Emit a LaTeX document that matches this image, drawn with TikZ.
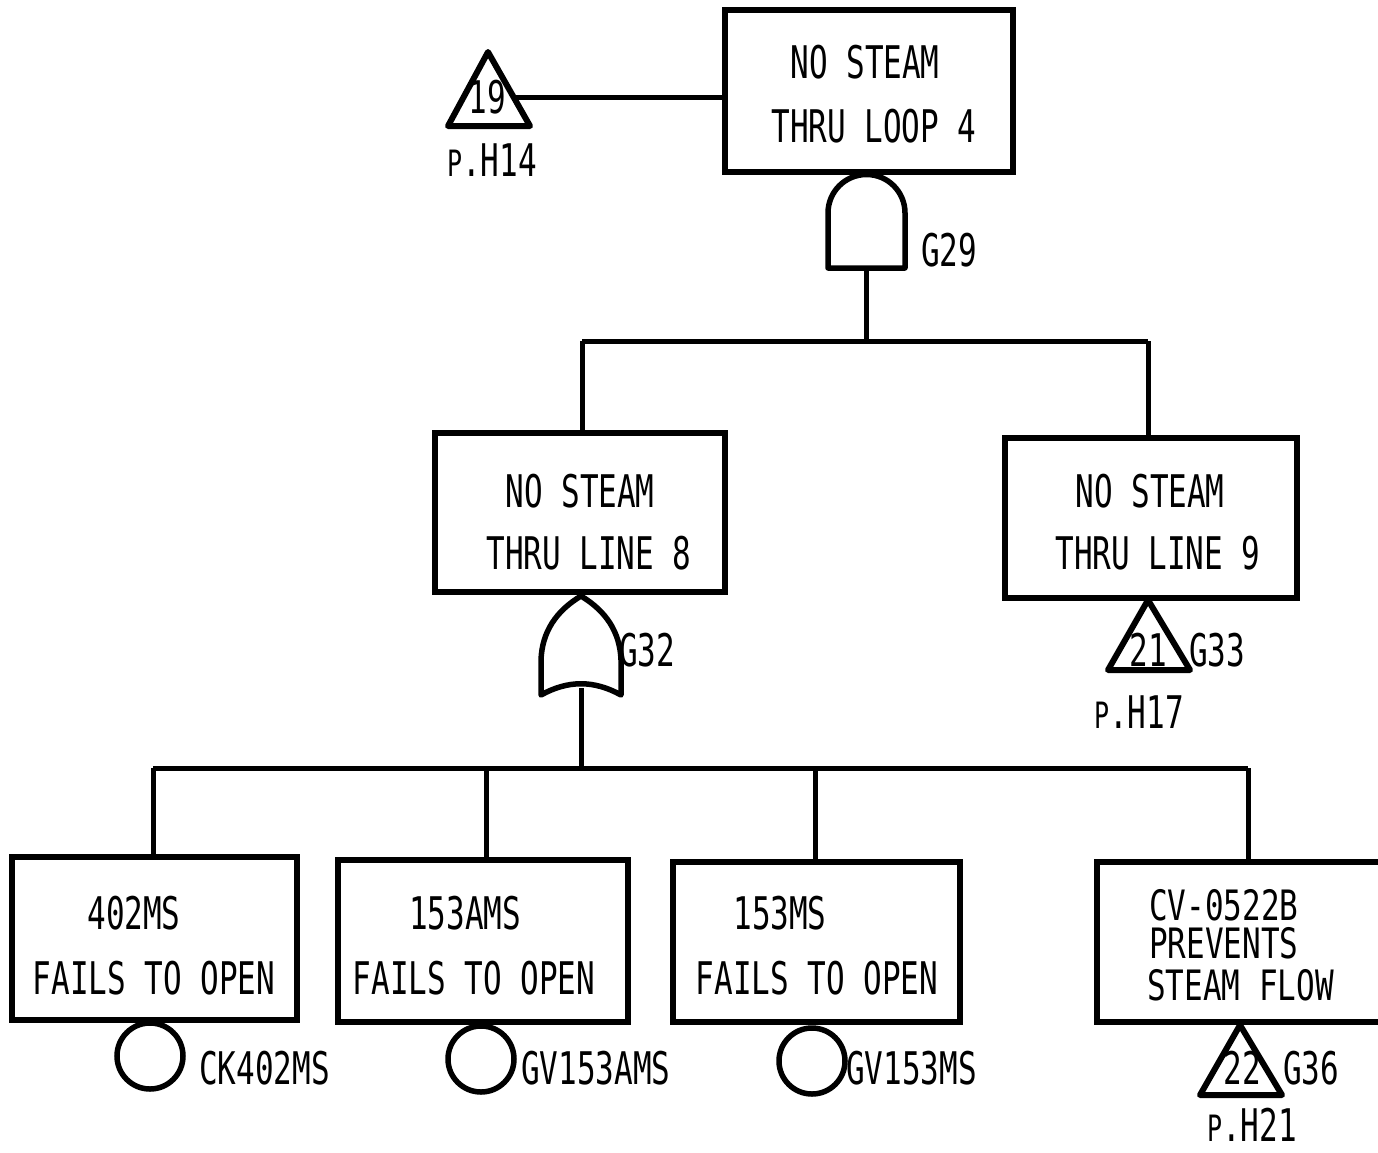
\documentclass[tikz,border=0pt]{standalone}
\usepackage{fontspec}
\newfontfamily\gfont{DejaVu Sans Mono}
\newcommand{\ST}[1]{\scalebox{1}[1.45]{#1}}
\newcommand{\smallP}{{\fontsize{25}{25}\selectfont P}}
\begin{document}
\begin{tikzpicture}[x=1pt,y=-1pt,
  evbox/.style={draw, line width=5.5pt, rectangle, inner sep=0pt},
  conn/.style={line width=5pt},
  gateshape/.style={line width=5.5pt, line join=round},
  tri/.style={line width=6pt, line join=round},
  basic/.style={draw, circle, line width=5.5pt, minimum size=66pt, inner sep=0pt},
  lbl/.style={inner sep=0pt, font=\gfont\fontsize{31}{31}\selectfont},
  lblw/.style={lbl, anchor=west}]
\useasboundingbox (0,0) rectangle (1378,1152);
\clip (0,0) rectangle (1378,1152);
\fill[white] (0,0) rectangle (1378,1152);

% top event
\node[evbox, minimum width=288pt, minimum height=162pt] (top) at (869,91) {};
\node[lbl] (toptxt1) at (865,62) {\ST{NO STEAM}};
\node[lbl] (toptxt2) at (874,126) {\ST{THRU LOOP 4}};

% transfer triangle 19
\coordinate (t19a) at (488,52);
\coordinate (t19b) at (448,126);
\coordinate (t19c) at (530,126);
\draw[tri] (t19a) -- (t19b) -- (t19c) -- cycle;
\node[lbl] (t19txt) at (487,97) {\ST{19}};
\node[lblw] (t19pg) at (447,160) {\ST{\smallP.H14}};
\coordinate (t19r) at (514,97);
\draw[conn] (t19r) -- (t19r -| top.west);

% AND gate G29
\coordinate (g29top) at (866.5,174.5);
\coordinate (g29bot) at (866.5,268);
\draw[gateshape] (828,268) -- (828,213)
  .. controls (828,191.7) and (845.2,174.5) .. (g29top)
  .. controls (887.8,174.5) and (905,191.7) .. (905,213) -- (905,268) -- cycle;
\node[lblw] (g29lbl) at (921,250) {\ST{G29}};
\coordinate (bus1) at (866.5,341);
\coordinate (bus1l) at (582,341);
\coordinate (bus1r) at (1148,341);
\draw[conn] (g29bot) -- (bus1);
\draw[conn] (bus1l) -- (bus1r);

% intermediate events
\node[evbox, minimum width=290pt, minimum height=159pt] (l8) at (580,512.5) {};
\node[lbl] (l8txt1) at (580,491) {\ST{NO STEAM}};
\node[lbl] (l8txt2) at (589,553) {\ST{THRU LINE 8}};
\node[evbox, minimum width=292pt, minimum height=160pt] (l9) at (1151,518) {};
\node[lbl] (l9txt1) at (1150,491) {\ST{NO STEAM}};
\node[lbl] (l9txt2) at (1158,553) {\ST{THRU LINE 9}};
\draw[conn] (bus1l) -- (bus1l |- l8.north);
\draw[conn] (bus1r) -- (bus1r |- l9.north);

% transfer triangle 21
\draw[tri] (1148,600) -- (1108,670) -- (1190,670) -- cycle;
\node[lbl] (t21txt) at (1148,650) {\ST{21}};
\node[lblw] (g33lbl) at (1189,650) {\ST{G33}};
\node[lblw] (t21pg) at (1094,712) {\ST{\smallP.H17}};

% OR gate G32
\coordinate (g32top) at (581,596);
\coordinate (g32bot) at (581,688);
\draw[gateshape] (g32top) .. controls (556,611) and (542,632) .. (541,660) -- (541,695)
  .. controls (568,680) and (594,680) .. (621,695) -- (621,660)
  .. controls (620,632) and (606,611) .. (g32top) -- cycle;
\node[lblw] (g32lbl) at (619,650) {\ST{G32}};
\coordinate (bus2) at (581,768);
\coordinate (bus2a) at (153,768);
\coordinate (bus2b) at (486,768);
\coordinate (bus2c) at (815,768);
\coordinate (bus2d) at (1248,768);
\draw[conn] (g32bot) -- (bus2);
\draw[conn] (bus2a) -- (bus2d);

% bottom events
\node[evbox, minimum width=285pt, minimum height=163pt] (b1) at (154.5,938.5) {};
\node[lbl] (b1txt1) at (134,913) {\ST{402MS}};
\node[lbl] (b1txt2) at (154,978) {\ST{FAILS TO OPEN}};
\node[evbox, minimum width=290pt, minimum height=162pt] (b2) at (483,941) {};
\node[lbl] (b2txt1) at (465,913) {\ST{153AMS}};
\node[lbl] (b2txt2) at (474,978) {\ST{FAILS TO OPEN}};
\node[evbox, minimum width=287pt, minimum height=160pt] (b3) at (816.5,942) {};
\node[lbl] (b3txt1) at (780,913) {\ST{153MS}};
\node[lbl] (b3txt2) at (817,978) {\ST{FAILS TO OPEN}};
\node[evbox, minimum width=330pt, minimum height=160pt] (b4) at (1262,942) {};
\node[lblw] (b4txt1) at (1149,905) {\scalebox{1}[1.35]{CV-0522B}};
\node[lblw] (b4txt2) at (1149,943) {\scalebox{1}[1.35]{PREVENTS}};
\node[lblw] (b4txt3) at (1147,985) {\scalebox{1}[1.35]{STEAM FLOW}};
\draw[conn] (bus2a) -- (bus2a |- b1.north);
\draw[conn] (bus2b) -- (bus2b |- b2.north);
\draw[conn] (bus2c) -- (bus2c |- b3.north);
\draw[conn] (bus2d) -- (bus2d |- b4.north);

% basic events
\node[basic] (c1) at (150,1056) {};
\node[lblw] (c1lbl) at (199,1068) {\ST{CK402MS}};
\node[basic] (c2) at (481,1059) {};
\node[lblw] (c2lbl) at (521,1068) {\ST{GV153AMS}};
\node[basic] (c3) at (812,1061) {};
\node[lblw] (c3lbl) at (846,1068) {\ST{GV153MS}};

% transfer triangle 22
\draw[tri] (1240,1025) -- (1200,1095) -- (1282,1095) -- cycle;
\node[lbl] (t22txt) at (1242,1068) {\ST{22}};
\node[lblw] (g36lbl) at (1283,1068) {\ST{G36}};
\node[lblw] (t22pg) at (1207,1125) {\ST{\smallP.H21}};
\end{tikzpicture}
\end{document}
